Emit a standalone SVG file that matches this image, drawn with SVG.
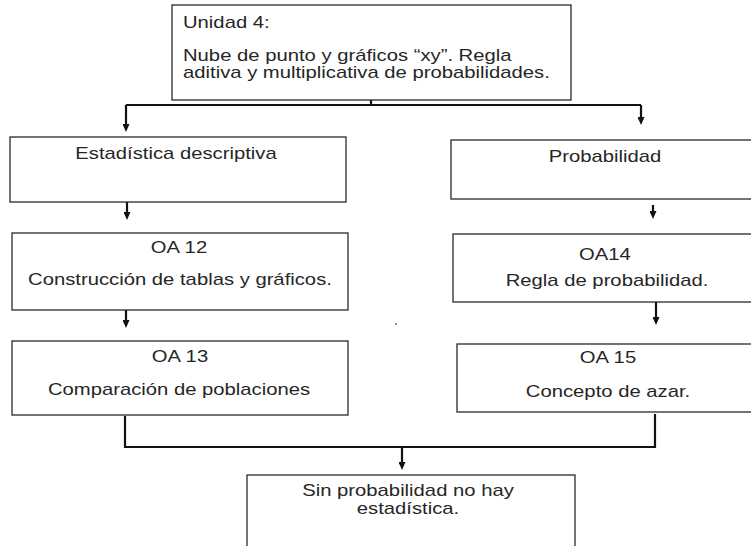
<svg xmlns="http://www.w3.org/2000/svg" width="751" height="546" viewBox="0 0 751 546">
<style>
.box{fill:#ffffff;stroke:#2a2a2a;stroke-width:1.3}
.t{font-family:"Liberation Sans",Arial,sans-serif;font-size:16.2px;fill:#262626}
.c{text-anchor:middle}
.ln{fill:none;stroke:#111;stroke-width:2.2}
</style>
<defs>
<marker id="ah" viewBox="0 0 8 7" refX="2" refY="3.5" markerWidth="8" markerHeight="7" markerUnits="userSpaceOnUse" orient="auto">
<path d="M0,0 L8,3.5 L0,7 z" fill="#111"/>
</marker>
</defs>
<rect width="751" height="546" fill="#ffffff"/>
<g id="connectors">
<path class="ln" d="M371,100 V105"/>
<path class="ln" d="M126,105 H641"/>
<path class="ln" d="M126,105 V126" marker-end="url(#ah)"/>
<path class="ln" d="M641,105 V119" marker-end="url(#ah)"/>
<path class="ln" d="M127,202 V214" marker-end="url(#ah)"/>
<path class="ln" d="M653,205 V213" marker-end="url(#ah)"/>
<path class="ln" d="M126,310 V322" marker-end="url(#ah)"/>
<path class="ln" d="M656,302 V319" marker-end="url(#ah)"/>
<path class="ln" d="M125,416 V447 H655 V414"/>
<path class="ln" d="M402,447 V464" marker-end="url(#ah)"/>
</g>
<g id="unidad">
<rect class="box" x="172" y="5" width="399" height="95"/>
<text class="t" transform="translate(183 28) scale(1.25 1)">Unidad 4:</text>
<text class="t" transform="translate(183 61) scale(1.25 1)">Nube de punto y gráficos “xy”. Regla</text>
<text class="t" transform="translate(183 78) scale(1.25 1)">aditiva y multiplicativa de probabilidades.</text>
</g>
<g id="estadistica">
<rect class="box" x="10" y="137" width="336" height="65"/>
<text class="t c" transform="translate(176 159) scale(1.25 1)">Estadística descriptiva</text>
</g>
<g id="probabilidad">
<rect class="box" x="451" y="140" width="310" height="59"/>
<text class="t c" transform="translate(605 162) scale(1.25 1)">Probabilidad</text>
</g>
<g id="oa12">
<rect class="box" x="12" y="233" width="336" height="77"/>
<text class="t c" transform="translate(179 253) scale(1.25 1)">OA 12</text>
<text class="t c" transform="translate(180 285) scale(1.25 1)">Construcción de tablas y gráficos.</text>
</g>
<g id="oa14">
<rect class="box" x="453" y="234" width="310" height="68"/>
<text class="t c" transform="translate(605 260) scale(1.25 1)">OA14</text>
<text class="t c" transform="translate(607 286) scale(1.25 1)">Regla de probabilidad.</text>
</g>
<g id="oa13">
<rect class="box" x="12" y="341" width="336" height="74"/>
<text class="t c" transform="translate(180 362) scale(1.25 1)">OA 13</text>
<text class="t c" transform="translate(179 395) scale(1.25 1)">Comparación de poblaciones</text>
</g>
<g id="oa15">
<rect class="box" x="457" y="344" width="310" height="68"/>
<text class="t c" transform="translate(608 363) scale(1.25 1)">OA 15</text>
<text class="t c" transform="translate(608 397) scale(1.25 1)">Concepto de azar.</text>
</g>
<g id="final">
<rect class="box" x="247" y="475" width="328" height="90"/>
<text class="t c" transform="translate(408 496) scale(1.25 1)">Sin probabilidad no hay</text>
<text class="t c" transform="translate(408 514) scale(1.25 1)">estadística.</text>
</g>
<circle cx="396" cy="324" r="1" fill="#e03030"/>
</svg>
